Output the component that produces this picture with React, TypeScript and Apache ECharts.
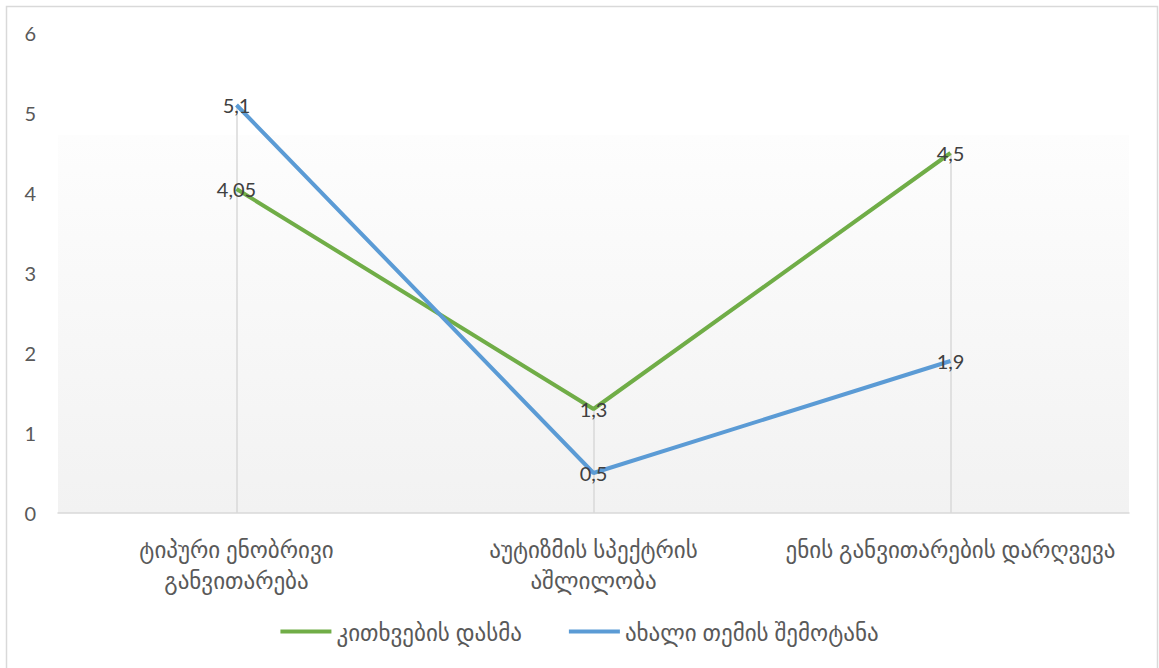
import React, { useEffect, useRef } from "react";
import * as echarts from "echarts";

const categories = [
  "ტიპური ენობრივი\nგანვითარება",
  "აუტიზმის სპექტრის\nაშლილობა",
  "ენის განვითარების დარღვევა",
];
const seriesNames = ["კითხვების დასმა", "ახალი თემის შემოტანა"];
const askingQuestions = [4.05, 1.3, 4.5];
const newTopic = [5.1, 0.5, 1.9];
const yTicks = [0, 1, 2, 3, 4, 5, 6];

const FONT = 'Lato, "DejaVu Sans", sans-serif';

export default function App() {
  const ref = useRef<HTMLDivElement>(null);
  useEffect(() => {
    if (!ref.current) return;
    const chart = echarts.init(ref.current, undefined, { renderer: "svg" });
    const maxes = categories.map((_, i) => Math.max(askingQuestions[i], newTopic[i]));
    const fmt = (p: any) => String(p.value).replace(".", ",");
    const dataLabel = {
      show: true,
      position: "inside",
      color: "#404040",
      fontSize: 20,
      formatter: fmt,
      fontFamily: FONT,
    };
    chart.setOption({
      animation: false,
      backgroundColor: "#ffffff",
      textStyle: { fontFamily: FONT },
      graphic: [
        {
          type: "rect",
          z: -10,
          silent: true,
          shape: { x: 6.5, y: 6.5, width: 1151, height: 700 },
          style: { fill: "none", stroke: "#d9d9d9", lineWidth: 1.5 },
        },
        {
          type: "rect",
          z: -10,
          silent: true,
          shape: { x: 58, y: 135, width: 1071, height: 378 },
          style: {
            fill: new echarts.graphic.LinearGradient(0, 0, 0, 1, [
              { offset: 0, color: "#fdfdfd" },
              { offset: 1, color: "#f2f2f2" },
            ]),
          },
        },
      ],
      grid: { left: 58, right: 30, top: 33, bottom: 155 },
      xAxis: {
        type: "category",
        data: categories,
        boundaryGap: true,
        axisLine: { lineStyle: { color: "#d9d9d9", width: 1.5 } },
        axisTick: { show: false },
        splitLine: { show: false },
        axisLabel: {
          color: "#595959",
          fontSize: 23,
          lineHeight: 31,
          margin: 20,
          interval: 0,
          fontFamily: FONT,
        },
      },
      yAxis: {
        type: "value",
        min: yTicks[0],
        max: yTicks[yTicks.length - 1],
        interval: 1,
        axisLine: { show: false },
        axisTick: { show: false },
        splitLine: { show: false },
        axisLabel: { color: "#595959", fontSize: 20, margin: 22, fontFamily: FONT },
      },
      legend: {
        bottom: 20,
        left: "center",
        icon: "rect",
        itemWidth: 51,
        itemHeight: 4,
        itemGap: 47,
        textStyle: { color: "#595959", fontSize: 23, fontFamily: FONT },
        data: seriesNames,
      },
      series: [
        {
          name: seriesNames[0],
          type: "line",
          data: askingQuestions,
          showSymbol: true,
          symbol: "circle",
          symbolSize: 0,
          z: 3,
          lineStyle: { color: "#70ad47", width: 4 },
          itemStyle: { color: "#70ad47" },
          label: dataLabel,
          markLine: {
            silent: true,
            symbol: "none",
            z: 1,
            label: { show: false },
            lineStyle: { color: "#d9d9d9", width: 1.5, type: "solid" },
            data: categories.map((_, i) => [
              { coord: [i, maxes[i]] },
              { coord: [i, 0] },
            ]),
          },
        },
        {
          name: seriesNames[1],
          type: "line",
          data: newTopic,
          showSymbol: true,
          symbol: "circle",
          symbolSize: 0,
          z: 4,
          lineStyle: { color: "#5b9bd5", width: 4 },
          itemStyle: { color: "#5b9bd5" },
          label: dataLabel,
        },
      ],
    });
    return () => chart.dispose();
  }, []);
  return (
    <div
      ref={ref}
      style={{ position: "fixed", left: 0, top: 0, width: 1159, height: 668 }}
    />
  );
}
